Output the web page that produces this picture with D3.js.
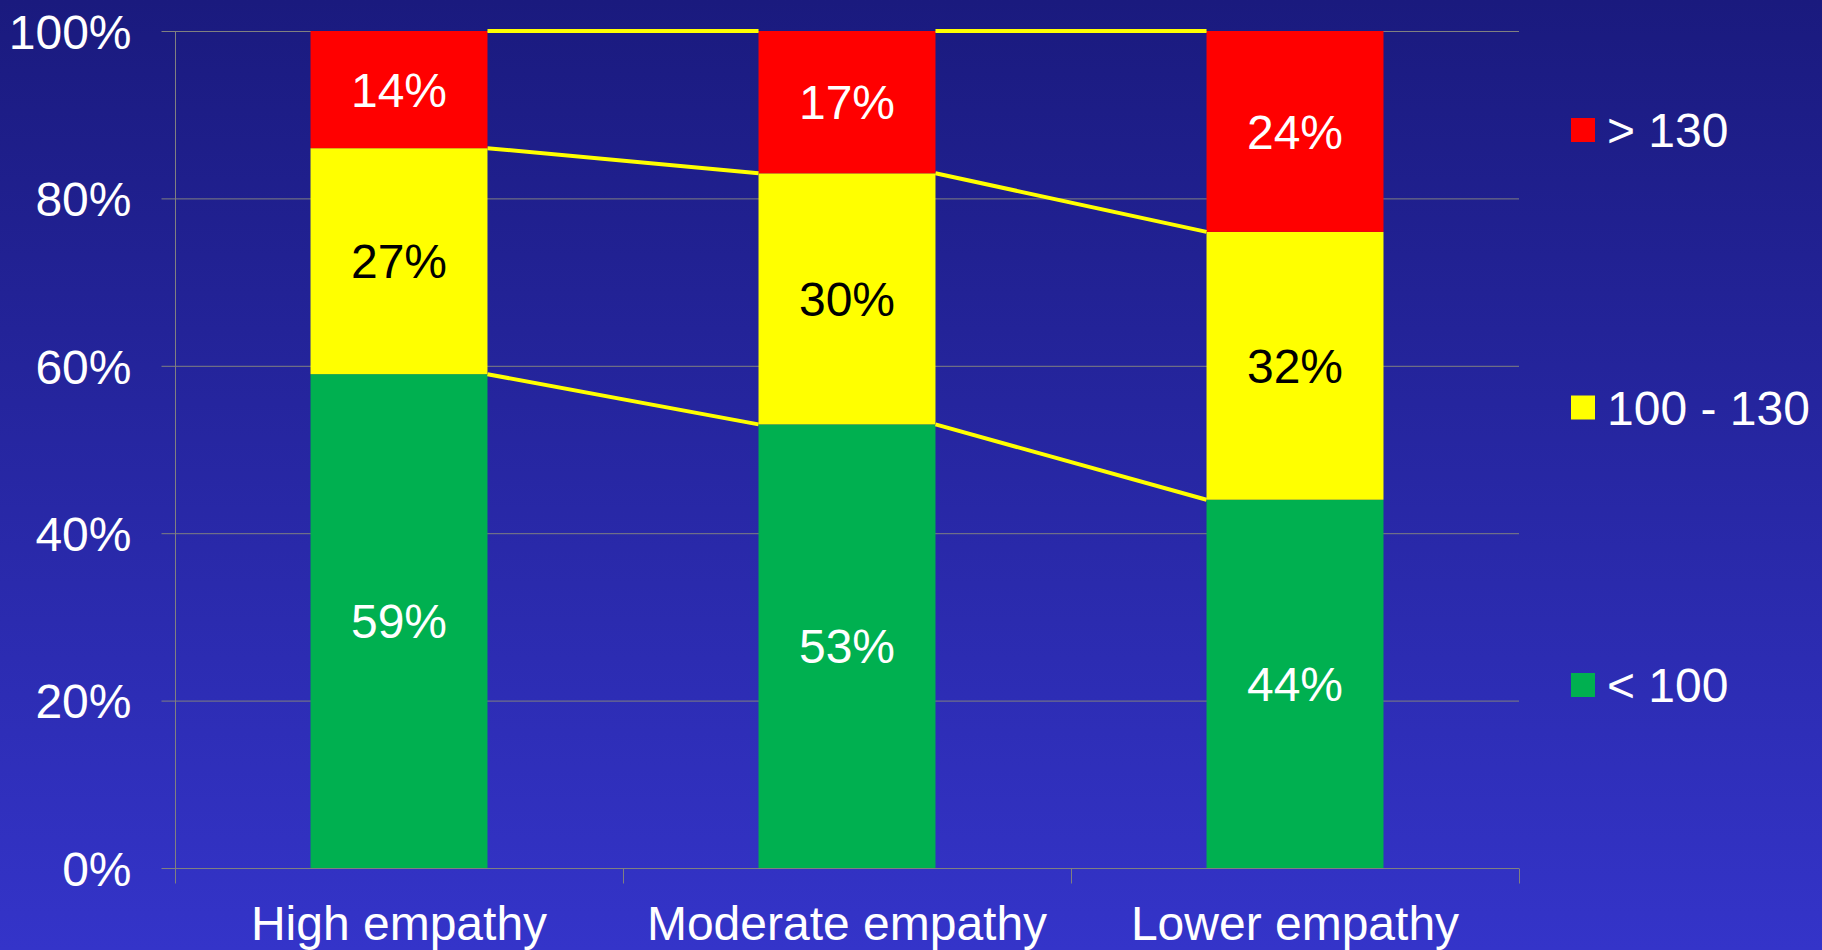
<!DOCTYPE html>
<html><head><meta charset="utf-8">
<script src="https://cdn.jsdelivr.net/npm/d3@7"></script>
<style>html,body{margin:0;padding:0;overflow:hidden;}svg{display:block;}</style>
</head><body>
<script>
const categories = ["High empathy", "Moderate empathy", "Lower empathy"];
const seriesNames = ["< 100", "100 - 130", "> 130"];
const lowValues = [59, 53, 44];
const midValues = [27, 30, 32];
const highValues = [14, 17, 24];
const yTicks = [0, 20, 40, 60, 80, 100];
const seriesColors = ["#00b050", "#ffff00", "#ff0000"];
const labelColors = ["#ffffff", "#000000", "#ffffff"];

const W = 1822, H = 950;
const margin = {left: 175, right: 303, top: 31, bottom: 82};
const svg = d3.select("body").append("svg").attr("width", W).attr("height", H);
const defs = svg.append("defs");
const grad = defs.append("linearGradient").attr("id","bg").attr("x1",0).attr("y1",0).attr("x2",0).attr("y2",1);
grad.append("stop").attr("offset","0%").attr("stop-color","#1a1a7e");
grad.append("stop").attr("offset","100%").attr("stop-color","#3434c9");
svg.append("rect").attr("width",W).attr("height",H).attr("fill","url(#bg)");

const x = d3.scaleBand().domain(categories).range([margin.left, W - margin.right]).paddingInner(0.605).paddingOuter(0.3025);
const xb = d3.scaleBand().domain(categories).range([margin.left, W - margin.right]);
const y = d3.scaleLinear().domain([0, 100]).range([H - margin.bottom, margin.top]);
const font = "Liberation Sans, Arial, sans-serif";
const grid = "#808080";

// gridlines
svg.append("g").selectAll("line").data(yTicks.filter(d=>d>0)).join("line")
  .attr("x1", margin.left).attr("x2", W - margin.right)
  .attr("y1", d=>y(d)+0.5).attr("y2", d=>y(d)+0.5)
  .attr("stroke", grid).attr("stroke-width", 1);

// y axis
const yAxis = svg.append("g").attr("transform", `translate(${margin.left+0.5},0)`)
  .call(d3.axisLeft(y).tickValues(yTicks).tickFormat(d=>d+"%").tickSize(14).tickPadding(30));
yAxis.select(".domain").attr("stroke", grid).attr("d", `M0,${y(100)}V${y(0)}`);
yAxis.selectAll(".tick line").attr("stroke", grid);
yAxis.selectAll("text").attr("fill","#fff").attr("font-family",font).attr("font-size",48).attr("dy","0.36em");

// stacked data
const rows = categories.map((c,i)=>({cat:c, low:lowValues[i], mid:midValues[i], high:highValues[i]}));
const stack = d3.stack().keys(["low","mid","high"])(rows);

// bars
stack.forEach((layer, li) => {
  svg.append("g").selectAll("rect").data(layer).join("rect")
    .attr("x", d=>x(d.data.cat)).attr("width", x.bandwidth())
    .attr("y", d=>y(d[1])).attr("height", d=>y(d[0])-y(d[1]))
    .attr("fill", seriesColors[li]);
});

// series lines between bars
stack.forEach((layer) => {
  for (let i = 0; i < layer.length - 1; i++) {
    svg.append("line")
      .attr("x1", x(layer[i].data.cat) + x.bandwidth()).attr("y1", y(layer[i][1]))
      .attr("x2", x(layer[i+1].data.cat)).attr("y2", y(layer[i+1][1]))
      .attr("stroke", "#ffff00").attr("stroke-width", 4);
  }
});

// x axis
const xAxisG = svg.append("g").attr("transform", `translate(0,${y(0)+0.5})`);
xAxisG.append("line").attr("x1", margin.left).attr("x2", W - margin.right).attr("stroke", grid);
const bounds = categories.map(c=>xb(c)).concat([W - margin.right]);
xAxisG.selectAll(".tk").data(bounds).join("line").attr("class","tk")
  .attr("x1", d=>d+0.5).attr("x2", d=>d+0.5).attr("y1",0).attr("y2",15).attr("stroke", grid);
xAxisG.selectAll("text").data(categories).join("text")
  .attr("x", d=>x(d)+x.bandwidth()/2).attr("y", 71)
  .attr("text-anchor","middle").attr("fill","#fff").attr("font-family",font).attr("font-size",48)
  .text(d=>d);

// data labels
stack.forEach((layer, li) => {
  svg.append("g").selectAll("text").data(layer).join("text")
    .attr("x", d=>x(d.data.cat)+x.bandwidth()/2)
    .attr("y", d=>(y(d[0])+y(d[1]))/2).attr("dy","0.36em")
    .attr("text-anchor","middle").attr("fill", labelColors[li])
    .attr("font-family",font).attr("font-size",48)
    .text(d=>(d[1]-d[0])+"%");
});

// legend
const legendOrder = [2,1,0];
const legendY = d3.scalePoint().domain(legendOrder).range([130, 685]);
const lg = svg.append("g");
legendOrder.forEach(k => {
  const cy = legendY(k);
  lg.append("rect").attr("x",1571).attr("y",cy-12).attr("width",24).attr("height",24).attr("fill",seriesColors[k]);
  lg.append("text").attr("x",1607).attr("y",cy).attr("dy","0.36em")
    .attr("fill","#fff").attr("font-family",font).attr("font-size",48).text(seriesNames[k]);
});
</script>
</body></html>
